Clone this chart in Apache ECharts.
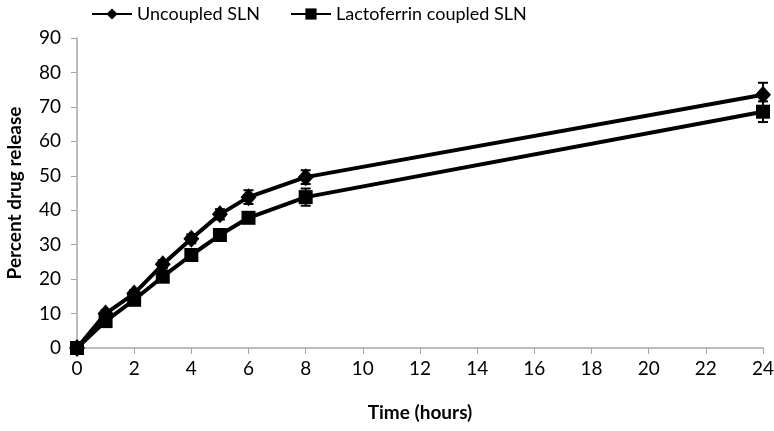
<!DOCTYPE html>
<html>
<head>
<meta charset="utf-8">
<script src="https://cdn.jsdelivr.net/npm/echarts@6/dist/echarts.min.js"></script>
<style>html,body{margin:0;padding:0;background:#fff}#c{width:774px;height:431px}</style>
</head>
<body>
<div id="c"></div>
<script>
var hours = [0, 1, 2, 3, 4, 5, 6, 8, 24];
var uncoupled = [0, 10, 15.8, 24.3, 31.7, 38.8, 43.8, 49.6, 73.5];
var uncoupledErr = [0.5, 1, 1, 1.2, 1.3, 1.5, 2, 2, 3.5];
var lacto = [0, 7.8, 14, 20.7, 27, 32.8, 37.8, 43.8, 68.6];
var lactoErr = [0.5, 1, 1, 1, 1, 1, 1.5, 2.5, 3];
var seriesNames = ['Uncoupled SLN', 'Lactoferrin coupled SLN'];

function pairs(vals){ return hours.map(function(h,i){ return [h, vals[i]]; }); }
function errData(vals, errs){ return hours.map(function(h,i){ return [h, vals[i]-errs[i], vals[i]+errs[i]]; }); }
function errRender(params, api){
  var x = api.value(0);
  var lo = api.coord([x, api.value(1)]);
  var hi = api.coord([x, api.value(2)]);
  var w = 5;
  var st = {stroke:'#000', lineWidth:2};
  return {type:'group', children:[
    {type:'line', shape:{x1:lo[0],y1:lo[1],x2:hi[0],y2:hi[1]}, style:st},
    {type:'line', shape:{x1:lo[0]-w,y1:lo[1],x2:lo[0]+w,y2:lo[1]}, style:st},
    {type:'line', shape:{x1:hi[0]-w,y1:hi[1],x2:hi[0]+w,y2:hi[1]}, style:st}
  ]};
}
var font = 'Lato, "Open Sans", sans-serif';
var chart = echarts.init(document.getElementById('c'));
chart.setOption({
  animation:false,
  backgroundColor:'#fff',
  textStyle:{fontFamily:font},
  legend:{
    top:0, left:86, itemGap:30, itemWidth:40, itemHeight:14,
    textStyle:{fontSize:18, color:'#000', fontFamily:font},
    data:seriesNames
  },
  grid:{left:77, right:11, top:38, bottom:83, outerBoundsMode:'none', containLabel:false},
  xAxis:{
    type:'value', min:0, max:24, interval:2,
    name:'Time (hours)', nameLocation:'middle', nameGap:55,
    nameTextStyle:{fontSize:19, fontWeight:'bold', color:'#000', fontFamily:font},
    axisLine:{lineStyle:{color:'#a6a6a6', width:1.5}},
    axisTick:{show:true, length:6, lineStyle:{color:'#a6a6a6'}},
    axisLabel:{fontSize:19, color:'#000', margin:11, fontFamily:font},
    splitLine:{show:false}
  },
  yAxis:{
    type:'value', min:0, max:90, interval:10,
    name:'Percent drug release', nameLocation:'middle', nameGap:53,
    nameTextStyle:{fontSize:19, fontWeight:'bold', color:'#000', fontFamily:font},
    axisLine:{show:true, lineStyle:{color:'#a6a6a6', width:1.5}},
    axisTick:{show:true, length:6, lineStyle:{color:'#a6a6a6'}},
    axisLabel:{fontSize:19, color:'#000', margin:16, fontFamily:font},
    splitLine:{show:false}
  },
  series:[
    {type:'custom', name:'errU', renderItem:errRender, data:errData(uncoupled, uncoupledErr), z:3, silent:true},
    {type:'custom', name:'errL', renderItem:errRender, data:errData(lacto, lactoErr), z:3, silent:true},
    {name:seriesNames[0], type:'line', data:pairs(uncoupled), symbol:'diamond', symbolSize:[16,18],
     lineStyle:{color:'#000', width:4}, itemStyle:{color:'#000'}, z:4},
    {name:seriesNames[1], type:'line', data:pairs(lacto), symbol:'rect', symbolSize:14,
     lineStyle:{color:'#000', width:4}, itemStyle:{color:'#000'}, z:4}
  ]
});
</script>
</body>
</html>
